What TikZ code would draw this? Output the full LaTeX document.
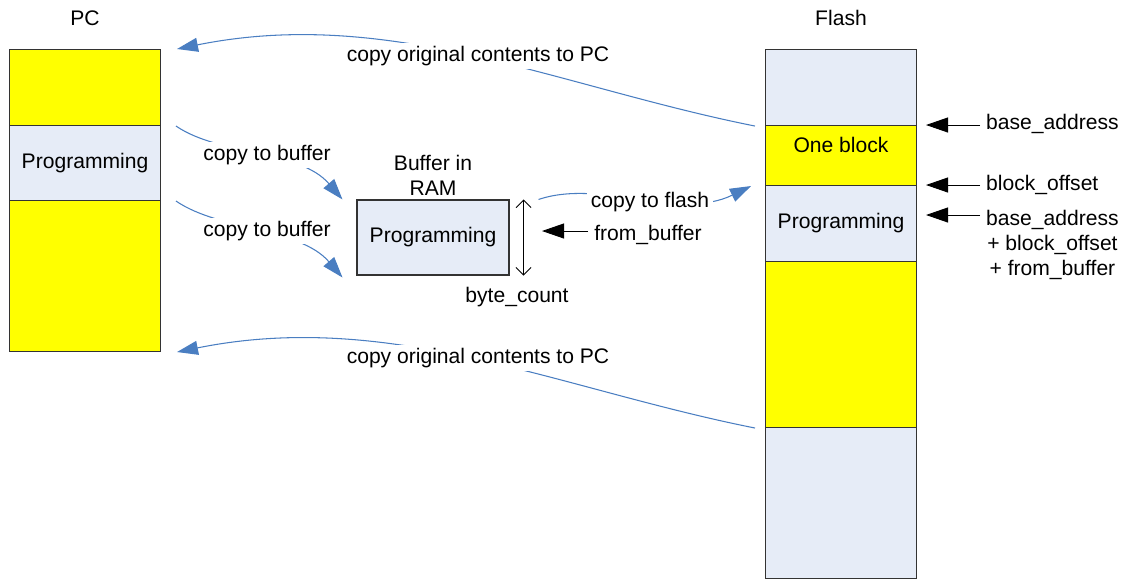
\documentclass[tikz,border=0pt]{standalone}
\usepackage{fontspec}
\setmainfont{Liberation Sans}
\usetikzlibrary{arrows.meta,positioning}

\definecolor{memyellow}{RGB}{255,255,0}
\definecolor{ramblue}{RGB}{230,236,247}
\definecolor{arrowblue}{RGB}{74,126,193}

\tikzset{
  seg/.style={rectangle, draw=black!80, line width=0.6pt, minimum width=3.02cm, inner sep=0pt, anchor=north},
  copyline/.style={draw=arrowblue, line width=0.6pt, -{Triangle[length=0.42cm,width=0.28cm]}},
  ptrline/.style={draw=black, line width=0.5pt, -{Triangle[length=0.44cm,width=0.3cm]}},
  tag/.style={fill=white, inner sep=2pt},
}

\begin{document}
\begin{tikzpicture}[x=0.02cm, y=-0.02cm, font=\fontsize{12}{14.2}\selectfont]
  \useasboundingbox (0,0) rectangle (1124,579);

  % PC memory
  \node (pclbl) at (85,18) {PC};
  \node (pa) [seg, fill=memyellow, minimum height=1.52cm] at (85,49) {};
  \node (pb) [seg, fill=ramblue, minimum height=1.5cm] at (85,125) {Programming};
  \node (pc) [seg, fill=memyellow, minimum height=3.02cm] at (85,200) {};

  % flash memory, top to bottom
  \node (flbl) at (841,18) {Flash};
  \foreach \n/\top/\h/\col/\txt in {fa/49/1.52/ramblue/{}, fb/125/1.2/memyellow/{}, fc/185/1.52/ramblue/Programming, fd/261/3.32/memyellow/{}, fe/427/3.02/ramblue/{}}{
    \node (\n) [seg, fill=\col, minimum height=\h cm] at (841,\top) {\txt};
  }
  \node (blk) [below=0.12cm of fb.north] {One block};

  % buffer in RAM
  \node (buf) [seg, anchor=center, fill=ramblue, minimum width=3.04cm, minimum height=1.5cm] at (433,237.5) {Programming};
  \node (buflbl) [align=center] at (433,175) {Buffer in\\RAM};
  \node (cnt) at (517,297) {byte\_count};
  \draw [{Straight Barb[length=1.5mm,width=3mm]}-{Straight Barb[length=1.5mm,width=3mm]}, line width=0.5pt]
    ([xshift=0.28cm]buf.north east) -- ([xshift=0.28cm]buf.south east);

  \node (lfrom) at (648,235) {from\_buffer};
  \coordinate (pfrom) at (542,231);
  \draw [ptrline] (lfrom.west |- pfrom) -- (pfrom);

  % copy paths
  \draw [copyline] ([xshift=-0.2cm]fa.south west) .. controls +(-196,-39) and +(213,-43) .. ([xshift=0.32cm]pa.north east);
  \draw [copyline] ([xshift=-0.2cm]fd.south west) .. controls +(-196,-39) and +(213,-43) .. ([xshift=0.32cm]pc.south east);
  \draw [copyline] ([xshift=0.3cm]pa.south east) .. controls +(44,30) and +(-43,-50) .. ([xshift=-0.28cm]buf.north west);
  \draw [copyline] ([xshift=0.3cm]pb.south east) .. controls +(44,30) and +(-43,-50) .. ([xshift=-0.28cm,yshift=-0.04cm]buf.south west);
  \draw [copyline] ([xshift=0.58cm]buf.north east) .. controls +(62,-21) and +(-72,35) .. ([xshift=-0.28cm]fb.south west);

  \node (cp1) [tag] at (478,56) {copy original contents to PC};
  \node (cp2) [tag] at (478,358) {copy original contents to PC};
  \node (tb1) [tag] at (267,155) {copy to buffer};
  \node (tb2) [tag] at (267,231) {copy to buffer};
  \node (tf) [tag] at (650,202) {copy to flash};

  % address pointers
  \coordinate (pbase) at ([xshift=0.18cm]fb.north east);
  \coordinate (poff) at ([xshift=0.18cm]fc.north east);
  \coordinate (psum) at ([xshift=0.18cm,yshift=-0.6cm]fc.north east);
  \node (lbase) [anchor=west] at (980,124) {base\_address};
  \node (loff) [anchor=west] at (980,185) {block\_offset};
  \node (lsum) [anchor=west, align=center] at (980,245) {base\_address\\+ block\_offset\\+ from\_buffer};
  \draw [ptrline] (lbase.west |- pbase) -- (pbase);
  \draw [ptrline] (loff.west |- poff) -- (poff);
  \draw [ptrline] (lsum.west |- psum) -- (psum);
\end{tikzpicture}
\end{document}
